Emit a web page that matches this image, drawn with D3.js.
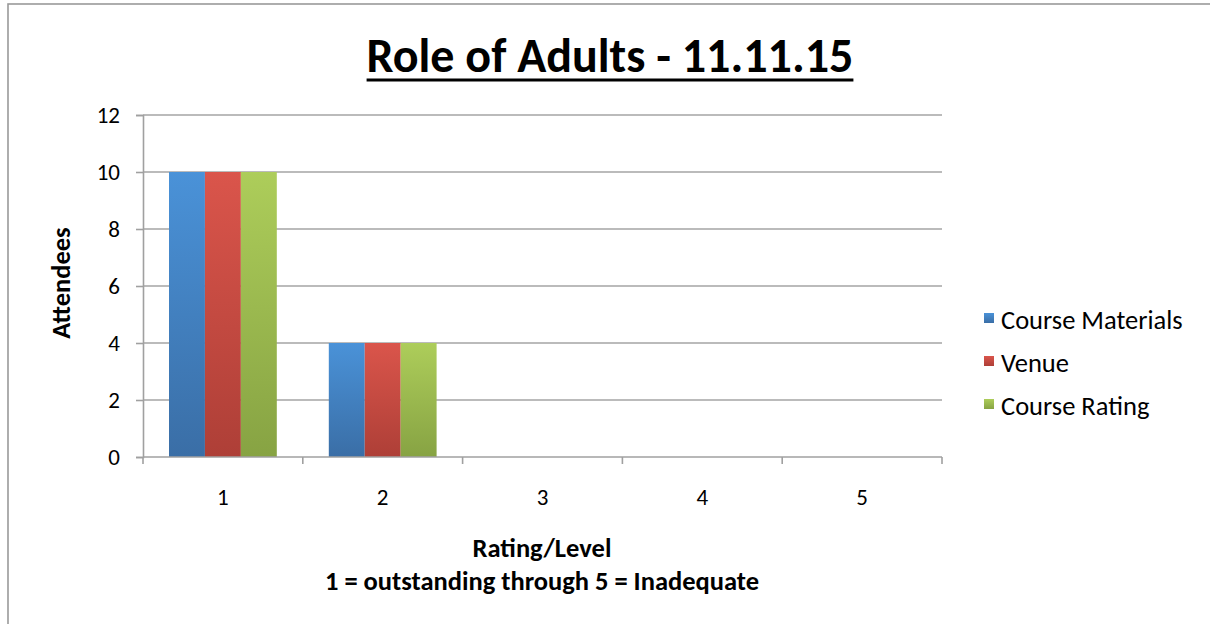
<!DOCTYPE html>
<meta charset="utf-8">
<style>
  body { margin: 0; background: #fff; }
  text { font-family: Carlito, "Open Sans", "Noto Sans", sans-serif; fill: #000; }
  .grid line { stroke: #a5a5a5; stroke-width: 1.6; }
  .axis path, .axis line { stroke: #a0a0a0; stroke-width: 1.6; }
</style>
<body>
<script src="https://d3js.org/d3.v7.min.js"></script>
<script>
var categories = ["1", "2", "3", "4", "5"];
var seriesNames = ["Course Materials", "Venue", "Course Rating"];
var courseMaterials = [10, 4, 0, 0, 0];
var venue = [10, 4, 0, 0, 0];
var courseRating = [10, 4, 0, 0, 0];
var yTicks = [0, 2, 4, 6, 8, 10, 12];
var colors = [["#4a92d8", "#3a6ea6"], ["#da554b", "#ae3f37"], ["#adcd5a", "#87a343"]];

var width = 1210, height = 624;
var plotLeft = 143, plotRight = 942, plotTop = 115, plotBottom = 457;

var seriesValues = [courseMaterials, venue, courseRating];
var rows = categories.map((c, i) => ({cat: c, vals: seriesValues.map((s, j) => ({key: j, value: s[i]}))}));

var svg = d3.select("body").append("svg")
    .attr("width", width)
    .attr("height", height);

var defs = svg.append("defs");
colors.forEach((c, i) => {
  var g = defs.append("linearGradient")
      .attr("id", "grad" + i)
      .attr("x1", 0).attr("y1", 0).attr("x2", 0).attr("y2", 1);
  g.append("stop").attr("offset", "0%").attr("stop-color", c[0]);
  g.append("stop").attr("offset", "100%").attr("stop-color", c[1]);
});

// outer frame
svg.append("rect")
    .attr("x", 8).attr("y", 4)
    .attr("width", width + 20).attr("height", height + 20)
    .attr("fill", "none")
    .attr("stroke", "#9a9a9a")
    .attr("stroke-width", 1.6);

var x0 = d3.scaleBand().domain(categories).range([plotLeft, plotRight]).padding(0);
var x1 = d3.scaleBand().domain([0, 1, 2]).range([26, x0.bandwidth() - 26]).padding(0);
var y = d3.scaleLinear().domain([0, 12]).range([plotBottom, plotTop]);

// gridlines
svg.append("g").attr("class", "grid")
  .selectAll("line")
  .data(yTicks.slice(1))
  .join("line")
    .attr("x1", plotLeft).attr("x2", plotRight)
    .attr("y1", d => y(d)).attr("y2", d => y(d));

// bars
svg.append("g")
  .selectAll("g")
  .data(rows)
  .join("g")
    .attr("transform", d => `translate(${x0(d.cat)},0)`)
  .selectAll("rect")
  .data(d => d.vals.filter(v => v.value > 0))
  .join("rect")
    .attr("x", d => x1(d.key))
    .attr("y", d => y(d.value))
    .attr("width", x1.bandwidth())
    .attr("height", d => y(0) - y(d.value))
    .attr("fill", d => `url(#grad${d.key})`);

// y axis
var yAxis = svg.append("g").attr("class", "axis")
    .attr("transform", `translate(${plotLeft},0)`)
    .call(d3.axisLeft(y).tickValues(yTicks).tickSize(7).tickPadding(16));
yAxis.selectAll("text").style("font-size", "23px");

// x axis
var xAxis = svg.append("g").attr("class", "axis")
    .attr("transform", `translate(0,${plotBottom})`)
    .call(d3.axisBottom(x0).tickSize(0).tickPadding(32));
xAxis.select(".domain").remove();
xAxis.append("line").attr("x1", plotLeft).attr("x2", plotRight).attr("y1", 0).attr("y2", 0);
xAxis.selectAll(".bnd")
  .data(categories.map(c => x0(c)).concat([plotRight]))
  .join("line").attr("class", "bnd")
    .attr("x1", d => d).attr("x2", d => d)
    .attr("y1", 0).attr("y2", 7);
xAxis.selectAll(".tick text").style("font-size", "23px");

// title
var title = svg.append("text")
    .attr("x", 610).attr("y", 72)
    .attr("text-anchor", "middle")
    .style("font-size", "48px")
    .style("font-weight", "bold")
    .text("Role of Adults - 11.11.15");
var tb = title.node().getBBox();
svg.append("line")
    .attr("x1", tb.x).attr("x2", tb.x + tb.width)
    .attr("y1", 80).attr("y2", 80)
    .attr("stroke", "#000").attr("stroke-width", 3);

// axis titles
svg.append("text")
    .attr("transform", "translate(70,283) rotate(-90)")
    .attr("text-anchor", "middle")
    .style("font-size", "26.5px").style("font-weight", "bold")
    .text("Attendees");

svg.append("text")
    .attr("x", 542).attr("y", 557)
    .attr("text-anchor", "middle")
    .style("font-size", "26.5px").style("font-weight", "bold")
    .text("Rating/Level");
svg.append("text")
    .attr("x", 542).attr("y", 590)
    .attr("text-anchor", "middle")
    .style("font-size", "26.5px").style("font-weight", "bold")
    .text("1 = outstanding through 5 = Inadequate");

// legend
var legend = svg.append("g")
  .selectAll("g")
  .data(seriesNames)
  .join("g")
    .attr("transform", (d, i) => `translate(984,${313 + i * 43})`);
legend.append("rect")
    .attr("width", 10).attr("height", 10)
    .attr("fill", (d, i) => `url(#grad${i})`);
legend.append("text")
    .attr("x", 17).attr("y", 16)
    .style("font-size", "26.5px")
    .text(d => d);
</script>
</body>
</html>
